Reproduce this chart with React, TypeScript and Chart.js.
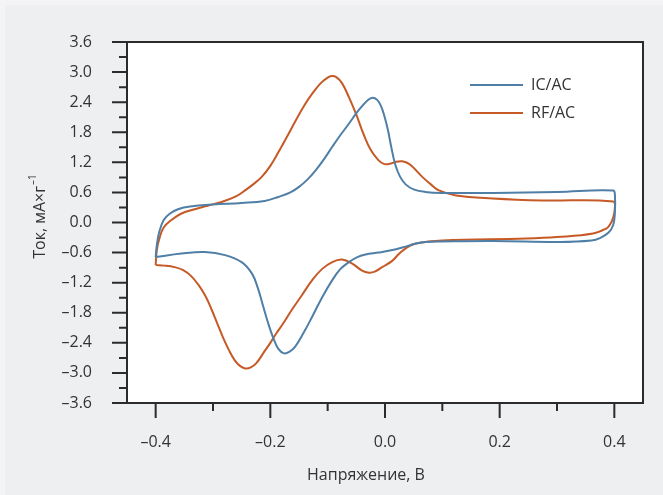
import React, { useEffect, useRef } from "react";
import { Chart, registerables } from "chart.js";

Chart.register(...registerables);

// ---------- data ----------
const seriesLabels = ["IC/AC", "RF/AC"];
const seriesColors = ["#4f7fa6", "#c65a26"];

// IC/AC loop: forward (anodic) branch then reverse (cathodic) branch
const icVoltage = [
  -0.4, -0.398, -0.394, -0.386, -0.375, -0.36, -0.34, -0.3, -0.25, -0.21,
  -0.186, -0.165, -0.15, -0.135, -0.121, -0.106, -0.092, -0.078, -0.063, -0.05,
  -0.04, -0.03, -0.022, -0.014, -0.007, -0.001, 0.005, 0.011, 0.018, 0.026,
  0.036, 0.05, 0.07, 0.1, 0.19, 0.3, 0.398,
  0.401, 0.401, 0.398, 0.39, 0.375, 0.36, 0.305, 0.19, 0.1, 0.071, 0.054, 0.03,
  0.013, -0.011, -0.034, -0.05, -0.063, -0.078, -0.092, -0.11, -0.127, -0.142,
  -0.157, -0.167, -0.176, -0.186, -0.195, -0.204, -0.213, -0.222, -0.232, -0.25,
  -0.279, -0.314, -0.355, -0.4,
];
const icCurrent = [
  -0.69, -0.45, -0.2, 0.05, 0.18, 0.27, 0.32, 0.36, 0.39, 0.43,
  0.51, 0.6, 0.71, 0.86, 1.04, 1.27, 1.51, 1.74, 1.97, 2.18,
  2.32, 2.44, 2.49, 2.45, 2.32, 2.12, 1.85, 1.5, 1.15, 0.92,
  0.76, 0.66, 0.61, 0.59, 0.59, 0.61, 0.64,
  0.55, 0.2, -0.05, -0.2, -0.31, -0.36, -0.39, -0.37, -0.38, -0.39, -0.42, -0.5,
  -0.55, -0.6, -0.64, -0.7, -0.79, -0.93, -1.15, -1.5, -1.88, -2.2,
  -2.48, -2.58, -2.61, -2.52, -2.3, -2.0, -1.65, -1.3, -1.02, -0.79,
  -0.65, -0.59, -0.62, -0.69,
];

// RF/AC loop
const rfVoltage = [
  -0.4, -0.398, -0.393, -0.386, -0.375, -0.355, -0.33, -0.308, -0.285, -0.26,
  -0.244, -0.23, -0.215, -0.2, -0.185, -0.17, -0.155, -0.14, -0.125, -0.112,
  -0.1, -0.093, -0.085, -0.075, -0.063, -0.05, -0.038, -0.025, -0.012, -0.002,
  0.008, 0.019, 0.03, 0.042, 0.055, 0.065, 0.08, 0.094,
  0.124, 0.188, 0.275, 0.398,
  0.401, 0.398, 0.392, 0.386, 0.363, 0.3, 0.246, 0.1, 0.054, 0.038, 0.025, 0.012,
  -0.005, -0.018, -0.028, -0.04, -0.057, -0.075, -0.092, -0.11, -0.127, -0.145,
  -0.163, -0.178, -0.19, -0.2, -0.212, -0.224, -0.234, -0.244, -0.253, -0.262,
  -0.272, -0.283, -0.293, -0.303, -0.313, -0.325, -0.338, -0.352, -0.367, -0.385,
  -0.4,
];
const rfCurrent = [
  -0.85, -0.55, -0.3, -0.1, 0.03, 0.18, 0.27, 0.34, 0.41, 0.52,
  0.64, 0.76, 0.91, 1.13, 1.42, 1.73, 2.05, 2.35, 2.6, 2.78,
  2.89, 2.92, 2.9, 2.78, 2.5, 2.15, 1.78, 1.45, 1.25, 1.17,
  1.17, 1.21, 1.22, 1.17, 1.03, 0.91, 0.76, 0.64,
  0.54, 0.48, 0.44, 0.42,
  0.3, 0.1, -0.05, -0.12, -0.22, -0.29, -0.32, -0.36, -0.42, -0.5, -0.62, -0.77,
  -0.89, -0.98, -1.0, -0.96, -0.82, -0.74, -0.79, -0.93, -1.15, -1.45,
  -1.75, -2.02, -2.22, -2.4, -2.6, -2.8, -2.89, -2.91, -2.86, -2.75,
  -2.55, -2.28, -2.0, -1.72, -1.47, -1.25, -1.07, -0.95, -0.89, -0.86,
  -0.85,
];

const xMajorTicks = [-0.4, -0.2, 0, 0.2, 0.4];
const xMinorTicks = [-0.3, -0.1, 0.1, 0.3];
const yMajorTicks = [-3.6, -3.0, -2.4, -1.8, -1.2, -0.6, 0, 0.6, 1.2, 1.8, 2.4, 3.0, 3.6];
const yMinorTicks = [-3.3, -2.7, -2.1, -1.5, -0.9, -0.3, 0.3, 0.9, 1.5, 2.1, 2.7, 3.3];
const xTitle = "Напряжение, В";
const yTitleMain = "Ток, мА×г";
const yTitleSup = "–1";

// ---------- helpers ----------
const FONT = "'Open Sans', 'DejaVu Sans', sans-serif";
const TEXT = "#333333";
const AXIS = "#2b2b2b";

function fmt(v: number): string {
  if (Math.abs(v) < 1e-9) return "0.0";
  const s = Math.abs(v).toFixed(1);
  return v < 0 ? "–" + s : s;
}

function toPoints(xs: number[], ys: number[]) {
  return xs.map((x, i) => ({ x, y: ys[i] }));
}

const decorPlugin = {
  id: "decor",
  beforeDraw(chart: any) {
    const { ctx, width, height, chartArea } = chart;
    ctx.save();
    ctx.fillStyle = "#f4f4f6";
    ctx.fillRect(0, 0, width, height);
    ctx.fillStyle = "#eeeff1";
    ctx.fillRect(5, 5, width - 5, height - 5);
    ctx.fillStyle = "#ffffff";
    ctx.fillRect(chartArea.left, chartArea.top, chartArea.right - chartArea.left, chartArea.bottom - chartArea.top);
    ctx.restore();
  },
  afterDraw(chart: any) {
    const { ctx, chartArea } = chart;
    const xs = chart.scales.x;
    const ys = chart.scales.y;
    ctx.save();
    // frame
    ctx.strokeStyle = AXIS;
    ctx.lineWidth = 2;
    ctx.strokeRect(chartArea.left, chartArea.top, chartArea.right - chartArea.left, chartArea.bottom - chartArea.top);
    // ticks
    ctx.lineWidth = 2;
    ctx.beginPath();
    for (const v of yMajorTicks) {
      const p = ys.getPixelForValue(v);
      ctx.moveTo(chartArea.left - 15, p);
      ctx.lineTo(chartArea.left, p);
    }
    for (const v of yMinorTicks) {
      const p = ys.getPixelForValue(v);
      ctx.moveTo(chartArea.left - 8, p);
      ctx.lineTo(chartArea.left, p);
    }
    for (const v of xMajorTicks) {
      const p = xs.getPixelForValue(v);
      ctx.moveTo(p, chartArea.bottom);
      ctx.lineTo(p, chartArea.bottom + 15);
    }
    for (const v of xMinorTicks) {
      const p = xs.getPixelForValue(v);
      ctx.moveTo(p, chartArea.bottom);
      ctx.lineTo(p, chartArea.bottom + 8);
    }
    ctx.stroke();

    // x title
    ctx.fillStyle = TEXT;
    ctx.font = `16px ${FONT}`;
    ctx.textAlign = "center";
    ctx.textBaseline = "middle";
    ctx.fillText(xTitle, chartArea.left + 239, chartArea.bottom + 72);

    // y title (rotated, with superscript)
    ctx.save();
    ctx.translate(40, 217);
    ctx.rotate(-Math.PI / 2);
    ctx.font = `16px ${FONT}`;
    const wMain = ctx.measureText(yTitleMain).width;
    ctx.font = `10px ${FONT}`;
    const wSup = ctx.measureText(yTitleSup).width;
    const start = -(wMain + wSup) / 2;
    ctx.textAlign = "left";
    ctx.textBaseline = "middle";
    ctx.font = `16px ${FONT}`;
    ctx.fillText(yTitleMain, start, 0);
    ctx.font = `10px ${FONT}`;
    ctx.fillText(yTitleSup, start + wMain + 1, -7);
    ctx.restore();

    // legend
    const lx = chartArea.right - 173;
    const ly = chartArea.top + 43;
    chart.data.datasets.forEach((ds: any, i: number) => {
      const y = ly + i * 28;
      ctx.strokeStyle = ds.borderColor;
      ctx.lineWidth = 2;
      ctx.beginPath();
      ctx.moveTo(lx, y);
      ctx.lineTo(lx + 53, y);
      ctx.stroke();
      ctx.fillStyle = TEXT;
      ctx.font = `16px ${FONT}`;
      ctx.textAlign = "left";
      ctx.textBaseline = "middle";
      ctx.fillText(ds.label, lx + 61, y);
    });
    ctx.restore();
  },
};

export default function App() {
  const ref = useRef<HTMLCanvasElement | null>(null);

  useEffect(() => {
    document.body.style.margin = "0";
    if (!ref.current) return;
    const chart = new Chart(ref.current, {
      type: "scatter",
      data: {
        datasets: [
          {
            label: seriesLabels[0],
            data: toPoints(icVoltage, icCurrent),
            borderColor: seriesColors[0],
            backgroundColor: seriesColors[0],
            showLine: true,
            pointRadius: 0,
            borderWidth: 2,
            tension: 0.4,
          },
          {
            label: seriesLabels[1],
            data: toPoints(rfVoltage, rfCurrent),
            borderColor: seriesColors[1],
            backgroundColor: seriesColors[1],
            showLine: true,
            pointRadius: 0,
            borderWidth: 2,
            tension: 0.4,
          },
        ],
      },
      options: {
        animation: false,
        responsive: true,
        maintainAspectRatio: false,
        layout: { padding: { top: 42, right: 20, left: 0, bottom: 0 } },
        plugins: {
          legend: { display: false },
          tooltip: { enabled: false },
        },
        scales: {
          x: {
            type: "linear",
            min: -0.45,
            max: 0.45,
            afterBuildTicks: (s: any) => {
              s.ticks = xMajorTicks.map((v) => ({ value: v }));
            },
            afterFit: (s: any) => {
              s.height = 92;
            },
            ticks: {
              callback: (v: any) => fmt(Number(v)),
              font: { family: FONT, size: 16 },
              color: TEXT,
              padding: 22,
              maxRotation: 0,
              autoSkip: false,
            },
            grid: { display: false },
            border: { display: false },
          },
          y: {
            type: "linear",
            min: -3.6,
            max: 3.6,
            afterBuildTicks: (s: any) => {
              s.ticks = yMajorTicks.map((v) => ({ value: v }));
            },
            afterFit: (s: any) => {
              s.width = 127;
            },
            ticks: {
              callback: (v: any) => fmt(Number(v)),
              font: { family: FONT, size: 16 },
              color: TEXT,
              padding: 27,
              autoSkip: false,
            },
            grid: { display: false },
            border: { display: false },
          },
        },
      },
      plugins: [decorPlugin],
    });
    return () => chart.destroy();
  }, []);

  return (
    <div style={{ position: "fixed", left: 0, top: 0, width: 663, height: 495 }}>
      <canvas ref={ref} />
    </div>
  );
}
